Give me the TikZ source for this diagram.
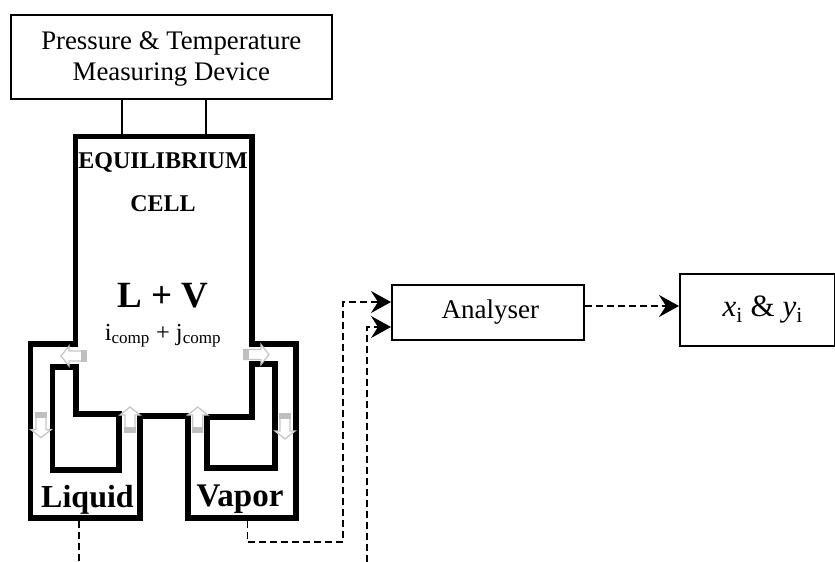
\documentclass[tikz,border=0pt]{standalone}
\usepackage{fontspec}
\setmainfont{Liberation Serif}
\usetikzlibrary{arrows.meta}
\tikzset{
  x=1pt,y=-1pt,
  thinbox/.style={draw=black,line width=1.6pt,fill=white,inner sep=0pt,anchor=north west,align=center},
  wall/.style={draw=black,line width=5.5pt,miter limit=10},
  conn/.style={draw=black,line width=1.2pt},
  dashline/.style={draw=black,line width=1.5pt,dash pattern=on 7pt off 4pt},
  flow/.style={-{Stealth[length=20pt,width=22pt,inset=7pt]}},
  hollow/.style={draw=black!22,line width=1.3pt,fill=white},
  lbl/.style={inner sep=0pt,text=black,anchor=base},
}
\newcommand{\flowarrow}[3]{% x, y (tail centre), rotation
  \begin{scope}[shift={(#1,#2)},rotate=#3]
    \path[hollow] (-5,0) -- (5,0) -- (5,17) -- (10,17) -- (0,25) -- (-10,17) -- (-5,17) -- cycle;
    \fill[black!25] (-5.6,-0.6) rectangle (5.6,5);
  \end{scope}}
\begin{document}
\begin{tikzpicture}
\useasboundingbox (0,0) rectangle (835,562);
\fill[white] (0,0) rectangle (835,562);
% boxes
\node[thinbox,minimum width=321pt,minimum height=84pt,font=\fontsize{26.8}{31}\selectfont] (ptm) at (10,14) {\rule{0pt}{23pt}Pressure \& Temperature\\Measuring Device};
\node[thinbox,minimum width=192pt,minimum height=55pt,font=\fontsize{27}{31}\selectfont] (ana) at (391,284) {\hspace*{5pt}Analyser};
\node[thinbox,minimum width=155pt,minimum height=72pt,font=\fontsize{31}{36}\selectfont] (res) at (679,273) {\hspace*{11pt}\textit{x}\textsubscript{i} \& \textit{y}\textsubscript{i}};
% cell walls
\coordinate (t1) at (122,135);
\coordinate (t2) at (206,135);
\draw[conn] (t1) -- (t1 |- ptm.south);
\draw[conn] (t2) -- (t2 |- ptm.south);
\path[wall] (75.5,136.5) -- (75.5,344) -- (30.5,344) -- (30.5,518) -- (140,518) -- (140,416) -- (188,416) -- (188,518) -- (296,518) -- (296,344) -- (252,344) -- (252,136.5) -- cycle;
\path[wall] (52.5,367) -- (76,367) -- (76,414) -- (119,414) -- (119,470) -- (52.5,470) -- cycle;
\path[wall] (252,364) -- (275,364) -- (275,468) -- (207,468) -- (207,417) -- (252,417) -- cycle;
% small arrows
\flowarrow{41}{412.7}{0}
\flowarrow{285}{414}{0}
\flowarrow{130}{432}{180}
\flowarrow{197.7}{432}{180}
\flowarrow{86}{356}{-90}
\flowarrow{244}{354.5}{90}
% labels
\node[lbl,font=\bfseries\fontsize{24}{28}\selectfont] (eq) at (163,168) {EQUILIBRIUM};
\node[lbl,font=\bfseries\fontsize{24}{28}\selectfont] (ce) at (163,211) {CELL};
\node[lbl,font=\bfseries\fontsize{37}{42}\selectfont] (lv) at (163,307) {L + V};
\node[lbl,font=\fontsize{24.4}{28}\selectfont] (ij) at (163,340) {i\textsubscript{comp} + j\textsubscript{comp}};
\node[lbl,font=\bfseries\fontsize{32}{36}\selectfont] (liq) at (87.5,507) {Liquid};
\node[lbl,font=\bfseries\fontsize{33}{37}\selectfont] (vap) at (240,506) {Vapor};
% dashed connectors
\coordinate (lq) at (79,520.5);
\coordinate (lqe) at (79,562);
\coordinate (vp) at (247.5,520.5);
\coordinate (ext) at (367,562);
\path[dashline] (lq) -- (lqe);
\path[dashline,flow] (vp) -- (247.5,542) -- (343,542) -- (343,302) -- (ana.west |- 0,302);
\path[dashline,flow] (ext) -- (367,327) -- (ana.west |- 0,327);
\path[dashline,flow] (ana.east |- 0,306) -- (res.west |- 0,306);
\end{tikzpicture}
\end{document}
